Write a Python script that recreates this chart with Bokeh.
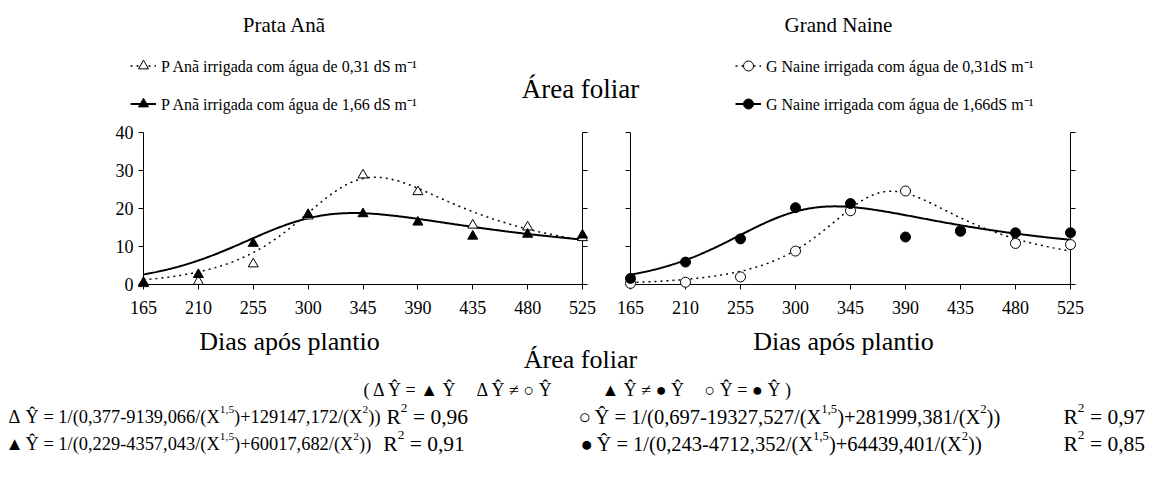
import numpy as np
from bokeh.plotting import figure
from bokeh.models import (Range1d, LinearAxis, Label, Legend, LegendItem,
                          ColumnDataSource, FixedTicker, CustomJSTickFormatter)
from bokeh.layouts import column, row
from bokeh.embed import file_html
from bokeh.resources import INLINE

FONT = "Liberation Serif"

# ---------------- data ----------------
days = [165, 210, 255, 300, 345, 390, 435, 480, 525]
y_ticks = [0, 10, 20, 30, 40]

pa_031 = [0.2, 0.8, 5.4, 18.0, 28.8, 24.4, 15.6, 15.1, 12.3]
pa_166 = [0.5, 2.6, 10.8, 18.4, 18.6, 16.4, 12.7, 13.2, 13.0]
gn_031 = [0.3, 0.6, 2.0, 8.8, 19.4, 24.6, 14.2, 10.8, 10.5]
gn_166 = [1.6, 5.9, 12.0, 20.2, 21.3, 12.5, 14.0, 13.6, 13.6]

# fitted models printed on the chart: Y = 1/(a - b/X^1.5 + c/X^2)
coef_pa_031 = [0.377, 9139.066, 129147.172]
coef_pa_166 = [0.229, 4357.043, 60017.682]
coef_gn_031 = [0.697, 19327.527, 281999.381]
coef_gn_166 = [0.243, 4712.352, 64439.401]
r2_pa_031, r2_pa_166, r2_gn_031, r2_gn_166 = 0.96, 0.91, 0.97, 0.85

panel_titles = ["Prata Anã", "Grand Naine"]
legend_labels = ["P Anã irrigada com água de 0,31 dS m⁻¹",
                 "P Anã irrigada com água de 1,66 dS m⁻¹",
                 "G Naine irrigada com água de 0,31dS m⁻¹",
                 "G Naine irrigada com água de 1,66dS m⁻¹"]
x_title = "Dias após plantio"
main_title = "Área foliar"
relations = ["( Δ Ŷ = ▲ Ŷ", "Δ Ŷ ≠ ○ Ŷ", "▲ Ŷ ≠ ● Ŷ", "○ Ŷ = ● Ŷ )"]

# ---------------- layout constants ----------------
W, H = 1158, 479
TOP_H = 120
PANEL_H = 200
BOT_H = H - TOP_H - PANEL_H
FR_TOP, FR_BOT = 132, 284          # absolute frame top / bottom (pixels)
LEFT_W = 600


def fitted(coef):
    a, b, c = coef
    x = np.linspace(days[0], days[-1], 361)
    return x, 1.0 / (a - b / x ** 1.5 + c / x ** 2)


def text_fig(h):
    p = figure(width=W, height=h, x_range=Range1d(0, W), y_range=Range1d(h, 0),
               output_backend="svg", toolbar_location=None, tools="",
               title_location=None,
               x_axis_location=None, y_axis_location=None, min_border=0)
    p.grid.visible = False
    p.outline_line_color = None
    return p


def add_label(p, x, y, text, size, align="left", baseline="alphabetic"):
    p.add_layout(Label(x=x, y=y, text=text, text_font=FONT, text_font_size=f"{size}px",
                       text_align=align, text_baseline=baseline, text_color="black"))


TW = {" ": .25, "(": .333, ")": .333, "+": .564, ",": .25, "-": .333, ".": .25,
      "/": .278, "=": .564, "R": .667, "X": .722, "Y": .722, "Ŷ": .722, "Δ": .612}


def tw(s, fs):
    return sum(TW.get(ch, 0.5) for ch in s) * fs


def draw_runs(p, x, y, runs, fs):
    for txt, sup in runs:
        f = fs * 0.62 if sup else fs
        lead = len(txt) - len(txt.lstrip(" "))
        x += lead * 0.25 * f
        body = txt.lstrip(" ")
        add_label(p, x, y - fs * 0.38 if sup else y, body, round(f, 1))
        x += tw(body, f)
    return x


def fmt(v, nd=3):
    return f"{v:.{nd}f}".replace(".", ",")


def eq_runs(coef):
    a, b, c = coef
    return [(f"Ŷ = 1/({fmt(a)}-{fmt(b)}/(X", False), ("1,5", True),
            (f")+{fmt(c)}/(X", False), ("2", True), ("))", False)]


def r2_runs(r):
    return [("R", False), ("2", True), (f" = {fmt(r, 2)}", False)]


# ---------------- top: titles & legends ----------------
top = text_fig(TOP_H)
add_label(top, 284, 24, panel_titles[0], 21, "center")
add_label(top, 838, 24, panel_titles[1], 21, "center")
add_label(top, 580, 88, main_title, 27, "center")

styles = [("triangle", "white", "2 4", 1.5), ("triangle", "black", "solid", 2),
          ("circle", "white", "2 4", 1.5), ("circle", "black", "solid", 2)]
key_items = []
for (mk, fc, dash, lw), lab in zip(styles, legend_labels):
    # legend keys only: one undefined (NaN) row, nothing is drawn in the plot area
    src = ColumnDataSource(data=dict(x=[np.nan], y=[np.nan]))
    rl = top.line("x", "y", source=src, line_color="black", line_dash=dash, line_width=lw)
    rs = top.scatter("x", "y", source=src, marker=mk, size=10, fill_color=fc,
                     line_color="black", line_width=1)
    key_items.append(LegendItem(label=lab, renderers=[rl, rs]))


def make_legend(items, x):
    return Legend(items=items, location=(x, TOP_H - 116), orientation="vertical",
                  label_text_font=FONT, label_text_font_size="16px", label_text_color="black",
                  glyph_width=26, glyph_height=25, label_height=25, spacing=13,
                  label_standoff=5, padding=0, margin=0, border_line_color=None,
                  background_fill_alpha=0)


top.add_layout(make_legend(key_items[:2], 130))
top.add_layout(make_legend(key_items[2:], 735))


# ---------------- panels ----------------
def make_panel(width, fl, fr, show_ylabels, open_vals, filled_vals, c_open, c_filled, marker):
    p = figure(width=width, height=PANEL_H, x_range=Range1d(165, 525), y_range=Range1d(0, 40),
               output_backend="svg", toolbar_location=None, tools="",
               min_border_left=fl, min_border_right=width - fr,
               min_border_top=FR_TOP - TOP_H, min_border_bottom=TOP_H + PANEL_H - FR_BOT)
    p.grid.visible = False
    p.outline_line_color = None
    p.xaxis.ticker = FixedTicker(ticks=days)
    p.yaxis.ticker = FixedTicker(ticks=y_ticks)
    if not show_ylabels:
        p.yaxis.formatter = CustomJSTickFormatter(code="return ''")
    rax = LinearAxis(ticker=FixedTicker(ticks=y_ticks),
                     formatter=CustomJSTickFormatter(code="return ''"),
                     major_tick_in=5, major_tick_out=0)
    p.add_layout(rax, "right")
    for ax in p.xaxis + p.yaxis + [rax]:
        ax.axis_line_color = "black"
        ax.axis_line_width = 1
        ax.major_tick_line_color = "black"
        ax.minor_tick_line_color = None
        ax.major_label_text_font = FONT
        ax.major_label_text_font_size = "18px"
        ax.major_label_text_color = "black"
    for ax in p.xaxis + p.yaxis:
        ax.major_tick_out = 5
        ax.major_tick_in = 0
    p.xaxis.major_label_standoff = 11
    p.yaxis.major_label_standoff = 5

    x, y = fitted(c_open)
    p.line(x, y, line_color="black", line_width=1.5, line_dash="2 4")
    x, y = fitted(c_filled)
    p.line(x, y, line_color="black", line_width=2)
    s1 = p.scatter(days, open_vals, marker=marker, size=10, fill_color="white",
                   line_color="black", line_width=1)
    s2 = p.scatter(days, filled_vals, marker=marker, size=10, fill_color="black",
                   line_color="black", line_width=1)
    s1.level = "overlay"
    s2.level = "overlay"
    return p


left = make_panel(LEFT_W, 143, 582, True, pa_031, pa_166, coef_pa_031, coef_pa_166,
                  "triangle")
right = make_panel(W - LEFT_W, 630 - LEFT_W, 1070 - LEFT_W, False, gn_031, gn_166,
                   coef_gn_031, coef_gn_166, "circle")

# ---------------- bottom: axis titles, relations, equations ----------------
bot = text_fig(BOT_H)
off = TOP_H + PANEL_H
add_label(bot, 289, 341 - off, x_title, 26, "center")
add_label(bot, 843, 341 - off, x_title, 26, "center")
add_label(bot, 580, 359 - off, main_title, 26, "center")
for xr, t in zip([363, 476, 601, 704], relations):
    add_label(bot, xr, 389 - off, t, 18)

yb1, yb2 = 416 - off, 443 - off
FS_L, FS_R, FS_R2 = 18.4, 20.5, 21.5
add_label(bot, 8, yb1, "Δ", FS_L)
xe = draw_runs(bot, 25, yb1, eq_runs(coef_pa_031), FS_L)
draw_runs(bot, xe + 6, yb1, r2_runs(r2_pa_031), FS_R2)
add_label(bot, 5, yb2, "▲", FS_L)
xe = draw_runs(bot, 25, yb2, eq_runs(coef_pa_166), FS_L)
draw_runs(bot, xe + 12, yb2, r2_runs(r2_pa_166), FS_R2)

add_label(bot, 578, yb1, "○", FS_R)
draw_runs(bot, 594, yb1, eq_runs(coef_gn_031), FS_R)
draw_runs(bot, 1063, yb1, r2_runs(r2_gn_031), FS_R2)
add_label(bot, 580, yb2, "●", FS_R)
draw_runs(bot, 596, yb2, eq_runs(coef_gn_166), FS_R)
draw_runs(bot, 1063, yb2, r2_runs(r2_gn_166), FS_R2)

layout = column(top, row(left, right), bot)
open("out.html", "w").write(file_html(layout, INLINE))
